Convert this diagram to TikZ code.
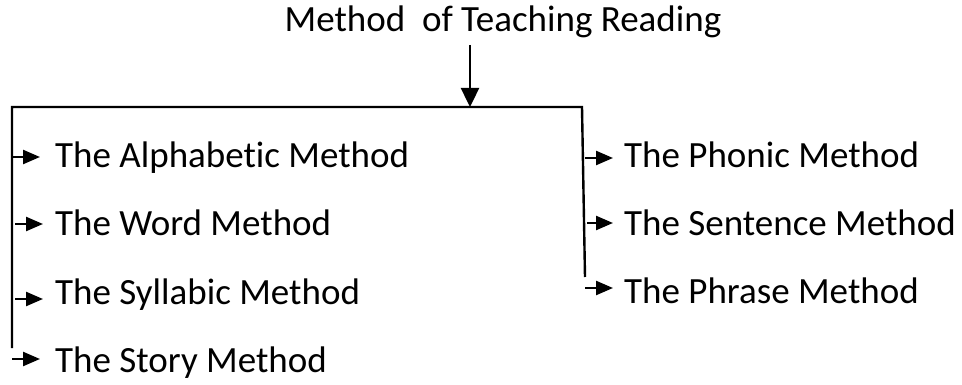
\documentclass[tikz,border=0pt]{standalone}
\usepackage{fontspec}
\setmainfont{Carlito}[Ligatures={NoCommon}]
\usetikzlibrary{arrows.meta,calc}
\begin{document}
\begin{tikzpicture}[x=1pt,y=-1pt,
  txt/.style={inner sep=0pt,anchor=base west,font=\fontsize{37}{44}\selectfont},
  line/.style={line width=2.4pt},
  arr/.style={line width=2.4pt,-{Triangle[length=17pt,width=14pt]}},
  bigarr/.style={line width=2.4pt,-{Triangle[length=19pt,width=18pt]}}]
\useasboundingbox (0,0) rectangle (962,385);
\node[txt,anchor=base] (title) at (503,32) {Method\ \ of Teaching Reading};
% left column
\node[txt] (a1) at (55,168) {The Alphabetic Method};
\node[txt] (a2) at (55,236) {The Word Method};
\node[txt] (a3) at (55,304) {The Syllabic Method};
\node[txt] (a4) at (55,372) {The Story Method};
% right column
\node[txt] (b1) at (624,168) {The Phonic Method};
\node[txt] (b2) at (624,236) {The Sentence Method};
\node[txt] (b3) at (624,303) {The Phrase Method};
% frame
\coordinate (top) at (470,45);
\coordinate (hit) at (470,107);
\coordinate (lt) at (12,107);
\coordinate (lb) at (12,348);
\coordinate (rt) at (582,107);
\coordinate (rb) at (585,277);
\draw[bigarr] (top) -- (hit);
\draw[line] (lb) -- (lt) -- (rt) -- (rb);
% left arrows
\draw[arr] (12,157) -- (40,157);
\draw[arr] (15,224) -- (43,224);
\draw[arr] (15,299) -- (43,299);
\draw[arr] (12,359) -- (40,359);
% right arrows
\draw[arr] (585,158) -- (613,158);
\draw[arr] (587,223) -- (613,223);
\draw[arr] (585,288) -- (613,288);
\end{tikzpicture}
\end{document}
